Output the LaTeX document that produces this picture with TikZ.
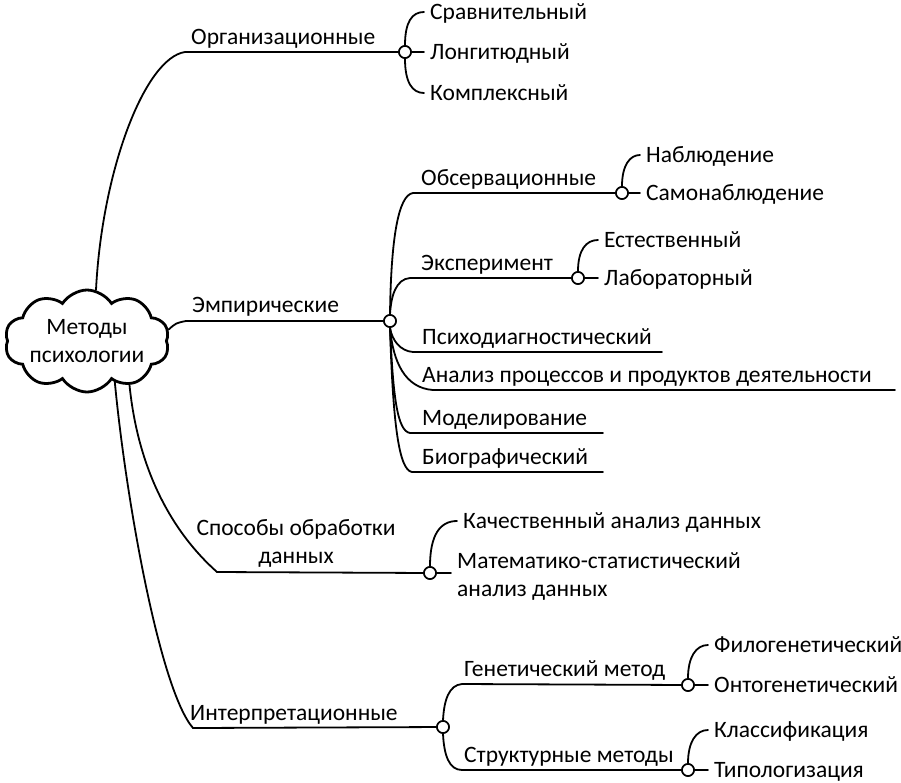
\documentclass[tikz,border=0pt]{standalone}
\usepackage{fontspec}
\setmainfont{Carlito}
\usetikzlibrary{shapes.symbols}
\begin{document}
\begin{tikzpicture}[x=1pt,y=-1pt,
  every node/.style={font=\fontsize{23.5}{28}\selectfont, inner sep=0pt},
  lbl/.style={anchor=base west},
  leaf/.style={anchor=west, inner xsep=6pt, text height=17pt, text depth=3pt},
  ln/.style={line width=1.8pt, line cap=round},
  dot/.style={circle, draw, line width=1.6pt, fill=white, minimum size=12pt, inner sep=0pt},
]
\useasboundingbox (0,0) rectangle (901,782);

% central cloud
\node[cloud, draw, line width=2.8pt, fill=white, cloud puffs=10, cloud puff arc=115,
      cloud ignores aspect, minimum width=164pt, minimum height=102pt, align=center]
      (c) at (87,341) {Методы\\психологии};

% ---------- Организационные ----------
\coordinate (oS) at (185,52);
\node[dot] (oC) at (405,52) {};
\node[lbl] (oL) at (191,44) {Организационные};
\node[leaf] (o1) at (424,12) {Сравнительный};
\node[leaf] (o2) at (424,52) {Лонгитюдный};
\node[leaf] (o3) at (424,93) {Комплексный};
\draw[ln] (c.80) .. controls (102,170) and (145,58) .. (oS) -- (oC);
\draw[ln] (oC.north) .. controls (405,22) and (412,12) .. (o1.west);
\draw[ln] (oC.east) -- (o2.west);
\draw[ln] (oC.south) .. controls (405,82) and (412,93) .. (o3.west);

% ---------- Эмпирические ----------
\coordinate (eS) at (186,321);
\node[dot] (eC) at (390,321) {};
\node[lbl] (eL) at (192,312) {Эмпирические};
\draw[ln] (c.8) .. controls (176,323) .. (eS) -- (eC);

% Обсервационные
\coordinate (obS) at (413,193);
\node[dot] (obC) at (622,193) {};
\node[lbl] (obL) at (421,185) {Обсервационные};
\node[leaf] (ob1) at (640,155) {Наблюдение};
\node[leaf] (ob2) at (640,193) {Самонаблюдение};
\draw[ln] (eC.north) .. controls (391,240) and (398,195) .. (obS) -- (obC);
\draw[ln] (obC.north) .. controls (622,165) and (630,155) .. (ob1.west);
\draw[ln] (obC.east) -- (ob2.west);

% Эксперимент
\coordinate (exS) at (410,278);
\node[dot] (exC) at (578,278) {};
\node[lbl] (exL) at (421,270) {Эксперимент};
\node[leaf] (ex1) at (598,240) {Естественный};
\node[leaf] (ex2) at (598,278) {Лабораторный};
\draw[ln] (eC.north) .. controls (391,296) and (396,279) .. (exS) -- (exC);
\draw[ln] (exC.north) .. controls (578,250) and (586,240) .. (ex1.west);
\draw[ln] (exC.east) -- (ex2.west);

% Психодиагностический
\coordinate (psS) at (413,352);
\coordinate (psE) at (662,352);
\node[lbl] (psL) at (422,344) {Психодиагностический};
\draw[ln] (eC.south) .. controls (392,340) and (400,351) .. (psS) -- (psE);

% Анализ процессов
\coordinate (anS) at (433,390);
\coordinate (anE) at (895,390);
\node[lbl] (anL) at (422,382) {Анализ процессов и продуктов деятельности};
\draw[ln] (eC.south) .. controls (393,362) and (405,388) .. (anS) -- (anE);

% Моделирование
\coordinate (moS) at (410,433);
\coordinate (moE) at (603,433);
\node[lbl] (moL) at (422,425) {Моделирование};
\draw[ln] (eC.south) .. controls (393,395) and (397,431) .. (moS) -- (moE);

% Биографический
\coordinate (biS) at (412,472);
\coordinate (biE) at (603,472);
\node[lbl] (biL) at (422,464) {Биографический};
\draw[ln] (eC.south) .. controls (393,425) and (399,470) .. (biS) -- (biE);

% ---------- Способы обработки данных ----------
\coordinate (spS) at (217,572);
\node[dot] (spC) at (430,573) {};
\node[align=center, anchor=south] (spL) at (296,568) {Способы обработки\\данных};
\node[leaf] (sp1) at (457,521) {Качественный анализ данных};
\node[anchor=west, inner xsep=6pt, align=left] (sp2) at (451,576) {Математико-статистический\\анализ данных};
\draw[ln] (c.-46) .. controls (138,470) and (172,532) .. (spS) -- (spC);
\draw[ln] (spC.north) .. controls (430,535) and (440,521) .. (sp1.west);
\draw[ln] (spC.east) -- (sp2.west |- spC.east);

% ---------- Интерпретационные ----------
\coordinate (inS) at (193,728);
\node[dot] (inC) at (443,727) {};
\node[lbl] (inL) at (190,720) {Интерпретационные};
\draw[ln] (c.-56) .. controls (126,500) and (160,690) .. (inS) -- (inC);

% Генетический метод
\coordinate (geS) at (462,684);
\node[dot] (geC) at (688,685) {};
\node[lbl] (geL) at (464,676) {Генетический метод};
\node[leaf] (ge1) at (708,645) {Филогенетический};
\node[leaf] (ge2) at (708,685) {Онтогенетический};
\draw[ln] (inC.north) .. controls (444,700) and (449,685) .. (geS) -- (geC);
\draw[ln] (geC.north) .. controls (688,657) and (696,645) .. (ge1.west);
\draw[ln] (geC.east) -- (ge2.west);

% Структурные методы
\coordinate (stS) at (462,770);
\node[dot] (stC) at (688,770) {};
\node[lbl] (stL) at (464,762) {Структурные методы};
\node[leaf] (st1) at (708,730) {Классификация};
\node[leaf] (st2) at (708,770) {Типологизация};
\draw[ln] (inC.south) .. controls (444,755) and (449,770) .. (stS) -- (stC);
\draw[ln] (stC.north) .. controls (688,742) and (696,730) .. (st1.west);
\draw[ln] (stC.east) -- (st2.west);

% redraw circles on top
\foreach \n in {oC,eC,obC,exC,spC,inC,geC,stC}
  \node[dot] at (\n) {};
\end{tikzpicture}
\end{document}
